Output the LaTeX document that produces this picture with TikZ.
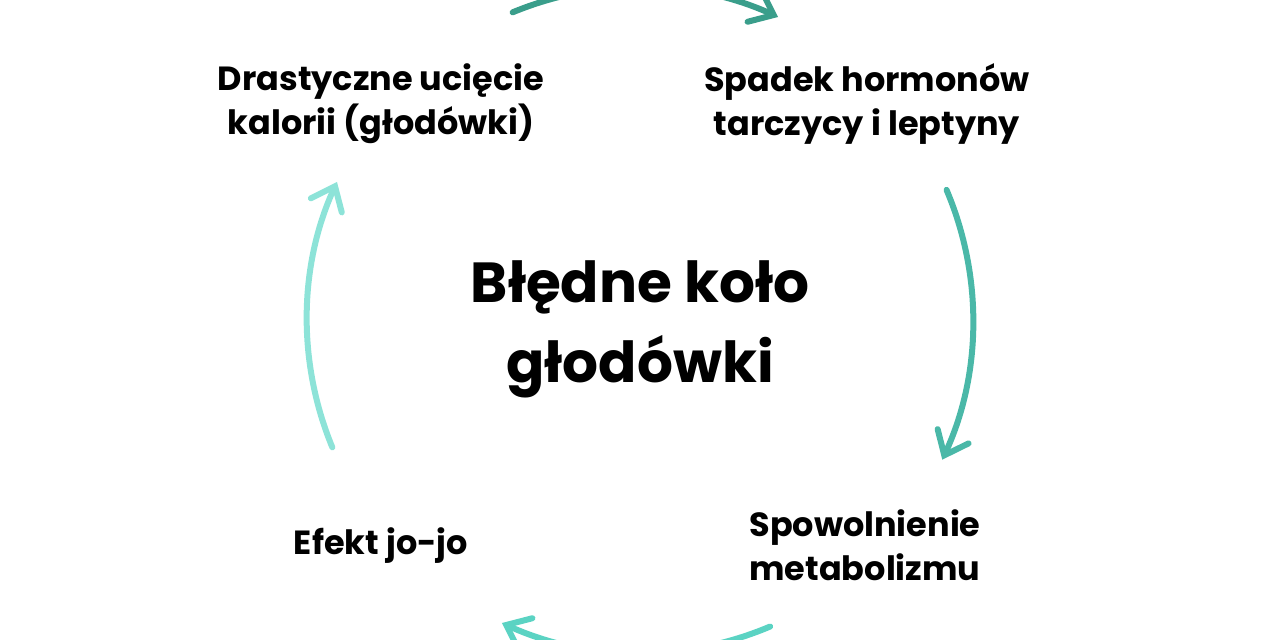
\documentclass[tikz,border=0pt]{standalone}
\usepackage{fontspec}
\setmainfont{Poppins}[BoldFont={* Bold}]
\usetikzlibrary{arrows.meta}
\definecolor{cA}{HTML}{3A9E8B}
\definecolor{cB}{HTML}{4AB8A8}
\definecolor{cC}{HTML}{5BD3C3}
\definecolor{cD}{HTML}{8DE3D8}
\tikzset{
  lbl/.style={font=\bfseries\fontsize{33.5}{44}\selectfont, align=center, text=black, inner sep=0pt},
  ttl/.style={font=\bfseries\fontsize{56.5}{80}\selectfont, align=center, text=black, inner sep=0pt},
  cyc/.style={line width=6pt, line cap=round, -{Straight Barb[length=21pt,width=34pt,line cap=round]}},
}
\begin{document}
\begin{tikzpicture}[x=1pt,y=1pt]
\useasboundingbox (0,0) rectangle (1280,640);
\coordinate (c) at (640,320);
\node[ttl] (title) at (640,311) {Błędne koło\\głodówki};
\node[lbl] (n1) at (381,536) {Drastyczne ucięcie\\kalorii (głodówki)};
\node[lbl] (n2) at (867,536) {Spadek hormonów\\tarczycy i leptyny};
\node[lbl] (n3) at (865,95) {Spowolnienie\\metabolizmu};
\node[lbl] (n4) at (381,94) {Efekt jo-jo};
\draw[cyc, cA] ([shift={(112.5:333)}]c) arc[start angle=112.5, end angle=65.5, radius=333];
\draw[cyc, cB] ([shift={(23:333)}]c) arc[start angle=23, end angle=-24.8, radius=333];
\draw[cyc, cC] ([shift={(-67:333)}]c) arc[start angle=-67, end angle=-114.5, radius=333];
\draw[cyc, cD] ([shift={(202.5:333)}]c) arc[start angle=202.5, end angle=155.5, radius=333];
\end{tikzpicture}
\end{document}
